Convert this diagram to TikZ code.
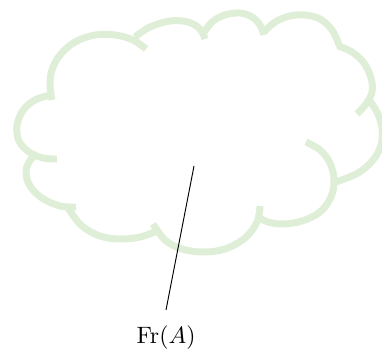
\documentclass[tikz,border=0pt]{standalone}
\definecolor{cloudgreen}{RGB}{223,238,215}
\begin{document}
\begin{tikzpicture}[x=0.422pt,y=-0.422pt,
  cloudarc/.style={draw=cloudgreen,line width=2.95pt,line cap=butt},
  pointer/.style={draw=black,line width=0.4pt}]
\useasboundingbox (0,0) rectangle (382,356);
\begin{scope}
\clip (0,0) rectangle (382,356);
% top-left big lobe
\draw[cloudarc] plot[smooth,tension=0.6] coordinates {(146,49) (133,40) (115,35) (95,35) (75,42) (60,55) (52,70) (50,85) (52,100)};
% top lobes
\draw[cloudarc] plot[smooth,tension=0.6] coordinates {(135,37) (150,27) (170,21) (188,22) (200,29) (205,39)};
\draw[cloudarc] plot[smooth,tension=0.6] coordinates {(203,34) (212,22) (225,15) (240,13) (252,17) (260,25) (264,35)};
\draw[cloudarc] plot[smooth,tension=0.6] coordinates {(264,32) (275,22) (290,16) (305,15) (320,19) (332,30) (340,47)};
% right lobes
\draw[cloudarc] plot[smooth,tension=0.6] coordinates {(338,46) (352,52) (364,63) (371,78) (372,92) (366,104) (357,114)};
\draw[cloudarc] plot[smooth,tension=0.6] coordinates {(369,100) (377,112) (382,128) (381,145) (373,160) (358,173) (336,182)};
\draw[cloudarc] plot[smooth,tension=0.6] coordinates {(306,142) (320,150) (330,163) (334,180) (331,197) (320,212) (302,221) (283,224) (268,222) (258,217)};
% bottom lobes
\draw[cloudarc] plot[smooth,tension=0.6] coordinates {(260,206) (257,222) (245,238) (225,249) (203,252) (182,249) (165,240) (153,224)};
\draw[cloudarc] plot[smooth,tension=0.6] coordinates {(157,231) (140,237) (120,239) (100,236) (82,226) (70,211) (68,206)};
% left lobes
\draw[cloudarc] plot[smooth,tension=0.6] coordinates {(76,207) (60,206) (42,198) (30,186) (26,173) (29,162) (37,153)};
\draw[cloudarc] plot[smooth,tension=0.6] coordinates {(52,95) (37,99) (24,109) (17,125) (19,141) (29,152) (43,158) (57,159)};
\end{scope}
\coordinate (tip) at (194,166);
\node[anchor=north,inner sep=6.4pt] (lbl) at (166,310) {$\mathrm{Fr}(A)$};
\draw[pointer] (tip) -- (lbl.north);
\end{tikzpicture}
\end{document}
